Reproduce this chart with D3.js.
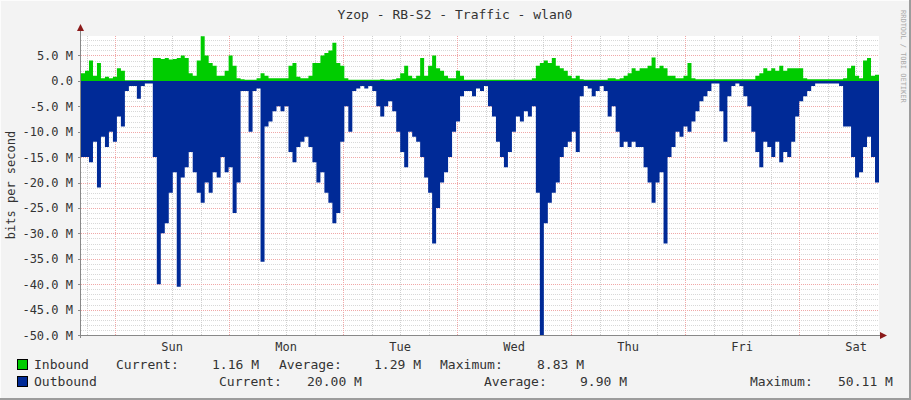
<!DOCTYPE html>
<html><head><meta charset="utf-8">
<script src="https://cdn.jsdelivr.net/npm/d3@7"></script>
<style>body{margin:0;background:#f3f3f3}svg{display:block}text{font-family:"DejaVu Sans Mono",monospace}</style>
</head><body><svg id="c" width="911" height="400"></svg>
<script>
const title = "Yzop - RB-S2 - Traffic - wlan0";
const yTicks = [5, 0, -5, -10, -15, -20, -25, -30, -35, -40, -45, -50];
const dayLabels = ["Sun","Mon","Tue","Wed","Thu","Fri","Sat"];
const inbound = [1.5,2,4,1,3.5,0.5,0.8,0.5,0.8,2.5,2,0.1,0.1,0.1,0.1,0.1,0.1,0.1,4.5,4.5,4.3,4.5,4.2,4.3,4.5,5,4.5,1.5,1,4,8.8,5,3.5,3,1,1,2,5,3,0.5,0.3,0.2,0.2,0.2,0.5,1.5,1,0.5,0.5,0.5,0.5,0.5,3,3.5,0.8,0.5,0.5,1,3.5,3.5,5,5.5,6,7.5,3.5,3,0.5,0.2,0.2,0.2,0.2,0.2,0.2,0.2,0.2,0.3,0.2,0.2,0.3,0.5,1.5,3,1,0.5,1,4.5,1,3,5,2.5,2,1,0.5,0.5,2,1,0.2,0.2,0.2,0.2,0.2,0.2,0.2,0.2,0.2,0.2,0.2,0.2,0.2,0.2,0.2,0.2,0.2,0.5,3,3.5,4,3.5,4.5,3,2.5,2,1,0.5,1,0.3,0.2,0.2,0.2,0.2,0.2,0.2,0.5,0.5,0.3,0.5,1,1.5,2.5,2,2.5,2.5,3,4.6,2.5,3,2.5,1,1,0.5,0.5,1,3.5,0.5,0.3,0.3,0.3,0.3,0.3,0.3,0.3,0.3,0.3,0.3,0.3,0.3,0.3,0.3,0.3,1,1.5,2.5,2,2.5,2,3,2,2.5,2.5,2.5,2.5,0.5,0.3,0.3,0.3,0.3,0.3,0.3,0.3,0.3,0.3,0.5,2.5,3,1,0.5,4,4.5,1,1.2];
const outbound = [15,15,16,12,21,11,13,10,12,7,9,2,1,1,3.5,1,0.5,0.5,15,40,30,28,22,18,40.5,19,17,14,18,22,24,20,22,18,19,15,18,17,26,20,2,2,10,2,1.5,35.6,9,8,6,5,6,5,14,16,13,12,11,13,16,20,18,22,24,28,26,12,5,10,2,1.5,1,1.5,1,2,5,7,5,4,6,10,14,17,10,11,12,15,19,22,32,25,20,18,15,10,8,3,2,2,3,1.5,2,1,5,7,12,15,17,14,10,7,8,6,7,5,22,50,28,24,22,20,15,13,12,10,14,3,1,1.5,3,2,1,2,7,5,10,13,12,13,12,13,13,17,20,24,20,18,32,15,13,10,11,9,10,8,6,4,3,2,0.5,0.5,6,12,3,1,0.5,1,3,5,10,14,17,12,13,15,12,16,14,15,12,7,4,3,2,1,0.5,0.5,0.5,0.5,0.5,0.5,1,9,9,15,19,18,13,11,15,20];

const svg = d3.select("#c");
const L=81,R=879,T=36,B=335;
const start = new Date(2024,0,6,16,48);
const end = d3.timeHour.offset(start,168);
const step = 168/inbound.length*3600000;
const x = d3.scaleTime().domain([start,end]).range([L,R]);
const y = d3.scaleLinear().domain([-50,8.83]).range([B,T]);

// frame shading
svg.append("rect").attr("x",0).attr("y",0).attr("width",911).attr("height",400).attr("fill","#f3f3f3");
svg.append("path").attr("d","M0,400V0H911").attr("stroke","#fcfcfc").attr("stroke-width",2).attr("fill","none");
svg.append("path").attr("d","M0,399H910V0").attr("stroke","#9c9c9c").attr("stroke-width",2).attr("fill","none");
svg.append("rect").attr("x",L).attr("y",T).attr("width",R-L).attr("height",B-T).attr("fill","#fff");

const g = svg.append("g");
// minor horizontal
d3.range(-50,9,1).forEach(v=>{ if(v%5) g.append("line").attr("x1",L).attr("x2",R).attr("y1",Math.round(y(v))+.5).attr("y2",Math.round(y(v))+.5).attr("stroke","#d8d8d8").attr("stroke-dasharray","1,1");});
// minor vertical
x.ticks(d3.timeHour.every(6)).forEach(t=>{ if(t.getHours()) g.append("line").attr("y1",T).attr("y2",B).attr("x1",Math.round(x(t))+.5).attr("x2",Math.round(x(t))+.5).attr("stroke","#d0d0d0").attr("stroke-dasharray","1,1");});
// major
yTicks.forEach(v=>g.append("line").attr("x1",L).attr("x2",R).attr("y1",Math.round(y(v))+.5).attr("y2",Math.round(y(v))+.5).attr("stroke","#f0a8a8").attr("stroke-dasharray","1,1"));
x.ticks(d3.timeDay.every(1)).forEach(t=>g.append("line").attr("y1",T).attr("y2",B).attr("x1",Math.round(x(t))+.5).attr("x2",Math.round(x(t))+.5).attr("stroke","#f0a8a8").attr("stroke-dasharray","1,1"));

const pts = a => a.map((v,i)=>[new Date(start.getTime()+i*step),v]).concat([[end,a[a.length-1]]]);
const area = d3.area().curve(d3.curveStepAfter).x(d=>x(d[0])).y0(y(0)).y1(d=>y(d[1]));
svg.append("path").datum(pts(outbound.map(v=>-v))).attr("d",area).attr("fill","#002A97");
svg.append("path").datum(pts(inbound)).attr("d",area).attr("fill","#00CC00");

// axes
svg.append("line").attr("x1",L-0.5).attr("x2",L-0.5).attr("y1",B+3).attr("y2",T-6).attr("stroke","#888");
svg.append("line").attr("x1",L-3).attr("x2",R+4).attr("y1",B+.5).attr("y2",B+.5).attr("stroke","#888");
svg.append("path").attr("d",`M${L-4},${T-5}L${L+3},${T-5}L${L-0.5},${T-12}Z`).attr("fill","#8b1a1a");
svg.append("path").attr("d",`M${R+1},${B-3}L${R+1},${B+4}L${R+8},${B+.5}Z`).attr("fill","#8b1a1a");
yTicks.forEach(v=>svg.append("line").attr("x1",L-3).attr("x2",L).attr("y1",Math.round(y(v))+.5).attr("y2",Math.round(y(v))+.5).attr("stroke","#888"));

yTicks.forEach(v=>svg.append("text").attr("x",73).attr("y",y(v)+4.5).attr("text-anchor","end").attr("font-size",12).attr("fill","#333").text(v.toFixed(1)+(v===0?"":" M")));
x.ticks(d3.timeDay.every(1)).forEach((t,i)=>svg.append("text").attr("x",x(d3.timeHour.offset(t,12))).attr("y",351).attr("text-anchor","middle").attr("font-size",12).attr("fill","#333").text(dayLabels[i]));

svg.append("text").attr("x",455).attr("y",19).attr("text-anchor","middle").attr("font-size",13).attr("fill","#333").text(title);
svg.append("text").attr("transform","translate(15,185) rotate(-90)").attr("text-anchor","middle").attr("font-size",12).attr("fill","#333").text("bits per second");
svg.append("text").attr("transform","translate(901,10) rotate(90)").attr("font-size",7).attr("fill","#aaa").text("RRDTOOL / TOBI OETIKER");

// legend
const leg = [
 {c:"#00CC00",y:369,items:[["Inbound",34],["Current:",116],["1.16 M",212],["Average:",279],["1.29 M",374],["Maximum:",440],["8.83 M",537]]},
 {c:"#002A97",y:386,items:[["Outbound",34],["Current:",219],["20.00 M",307],["Average:",484],["9.90 M",580],["Maximum:",750],["50.11 M",838]]}
];
leg.forEach(r=>{
 svg.append("rect").attr("x",17.5).attr("y",r.y-9.5).attr("width",10).attr("height",10).attr("fill",r.c).attr("stroke","#000");
 r.items.forEach(([s,px])=>svg.append("text").attr("x",px).attr("y",r.y).attr("font-size",12).attr("fill","#333")
   .attr("textLength",s.length*7.85).attr("lengthAdjust","spacingAndGlyphs").text(s));
});
</script></body></html>
